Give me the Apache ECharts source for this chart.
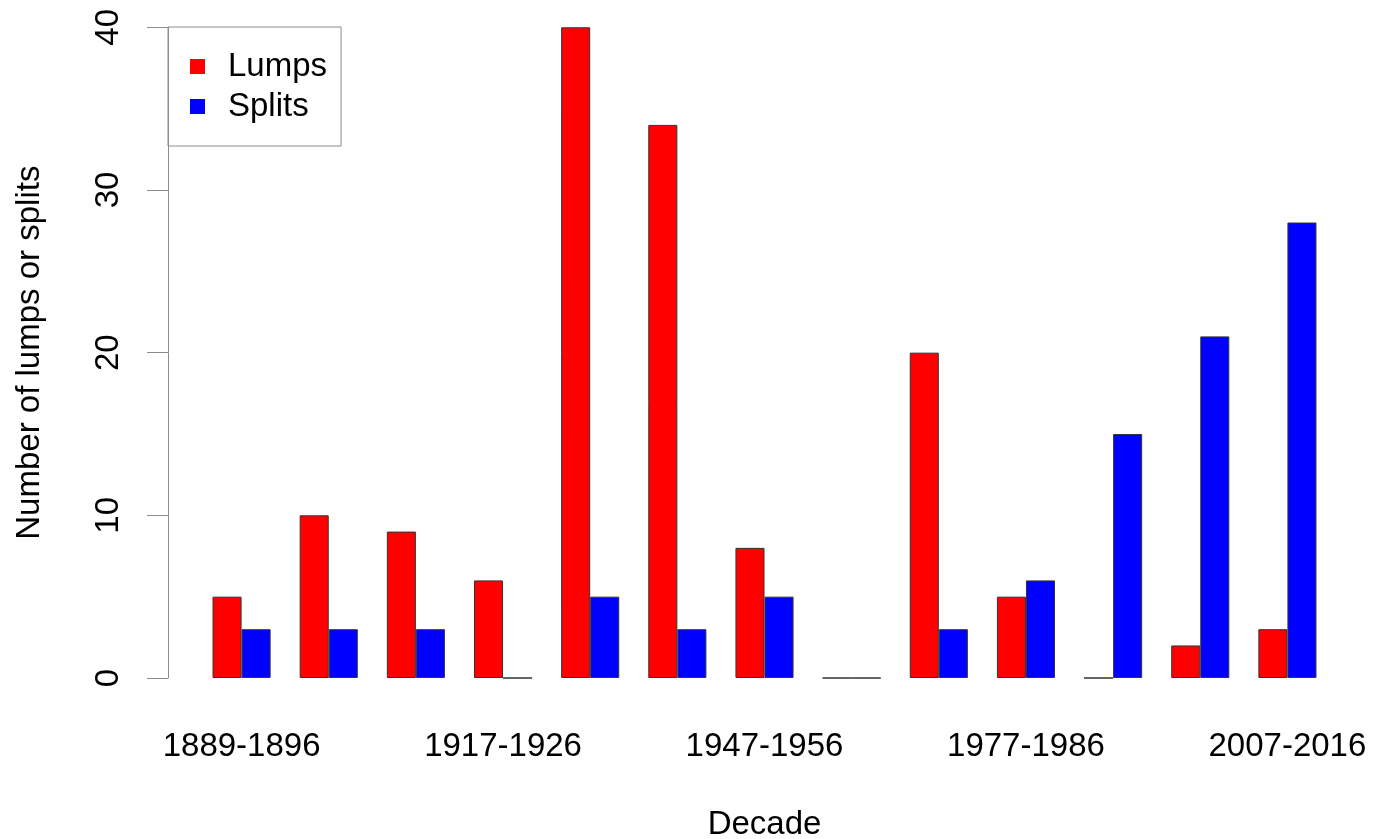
<!DOCTYPE html>
<html>
<head>
<meta charset="utf-8">
<script src="https://cdn.jsdelivr.net/npm/echarts@6/dist/echarts.min.js"></script>
<style>html,body{margin:0;padding:0;background:#fff}#c{width:1384px;height:839px}</style>
</head>
<body>
<div id="c"></div>
<script>
const decades = ['1889-1896','1897-1906','1907-1916','1917-1926','1927-1936','1937-1946','1947-1956','1957-1966','1967-1976','1977-1986','1987-1996','1997-2006','2007-2016'];
const lumps  = [5,10,9,6,40,34,8,0,20,5,0,2,3];
const splits = [3,3,3,0,5,3,5,0,3,6,15,21,28];
const yTicks = [0,10,20,30,40];

const FONT = 'Liberation Sans, Arial, sans-serif';
const FS = 33;
const chart = echarts.init(document.getElementById('c'), null, {renderer:'canvas'});
const gridLeft = 198, axisX = 168;
chart.setOption({
  animation:false,
  backgroundColor:'#fff',
  textStyle:{fontFamily:FONT},
  grid:{left:gridLeft, width:1133, top:27.3, bottom:161, containLabel:false, outerBoundsMode:'none'},
  legend:{
    left:168, top:27, orient:'vertical',
    padding:[23,14,23,22],
    itemGap:7, itemWidth:15, itemHeight:15, icon:'rect',
    borderColor:'#8c8c8c', borderWidth:1,
    itemStyle:{borderWidth:0},
    textStyle:{fontSize:FS, color:'#000', fontFamily:FONT, lineHeight:33, padding:[0,0,0,18]},
    data:['Lumps','Splits']
  },
  xAxis:{
    type:'category', data:decades,
    axisLine:{show:false}, axisTick:{show:false},
    axisLabel:{interval:2, fontSize:FS, color:'#000', margin:52, fontFamily:FONT},
    name:'Decade', nameLocation:'middle', nameGap:130,
    nameTextStyle:{fontSize:FS, color:'#000', fontFamily:FONT}
  },
  yAxis:{
    type:'value', min:yTicks[0], max:yTicks[yTicks.length-1], interval:10,
    offset:gridLeft-axisX,
    axisLine:{show:true, lineStyle:{color:'#8c8c8c', width:1}},
    axisTick:{show:true, length:21, lineStyle:{color:'#8c8c8c', width:1}},
    splitLine:{show:false},
    axisLabel:{rotate:90, fontSize:FS, color:'#000', margin:43, fontFamily:FONT},
    name:'Number of lumps or splits', nameLocation:'middle', nameGap:122,
    nameTextStyle:{fontSize:FS, color:'#000', fontFamily:FONT}
  },
  series:[
    {name:'Lumps', type:'bar', data:lumps, barGap:'0%', barCategoryGap:'33.333%',
     itemStyle:{color:'#ff0000', borderColor:'#333', borderWidth:1}},
    {name:'Splits', type:'bar', data:splits, barGap:'0%', barCategoryGap:'33.333%',
     itemStyle:{color:'#0000ff', borderColor:'#333', borderWidth:1}}
  ]
});
</script>
</body>
</html>
